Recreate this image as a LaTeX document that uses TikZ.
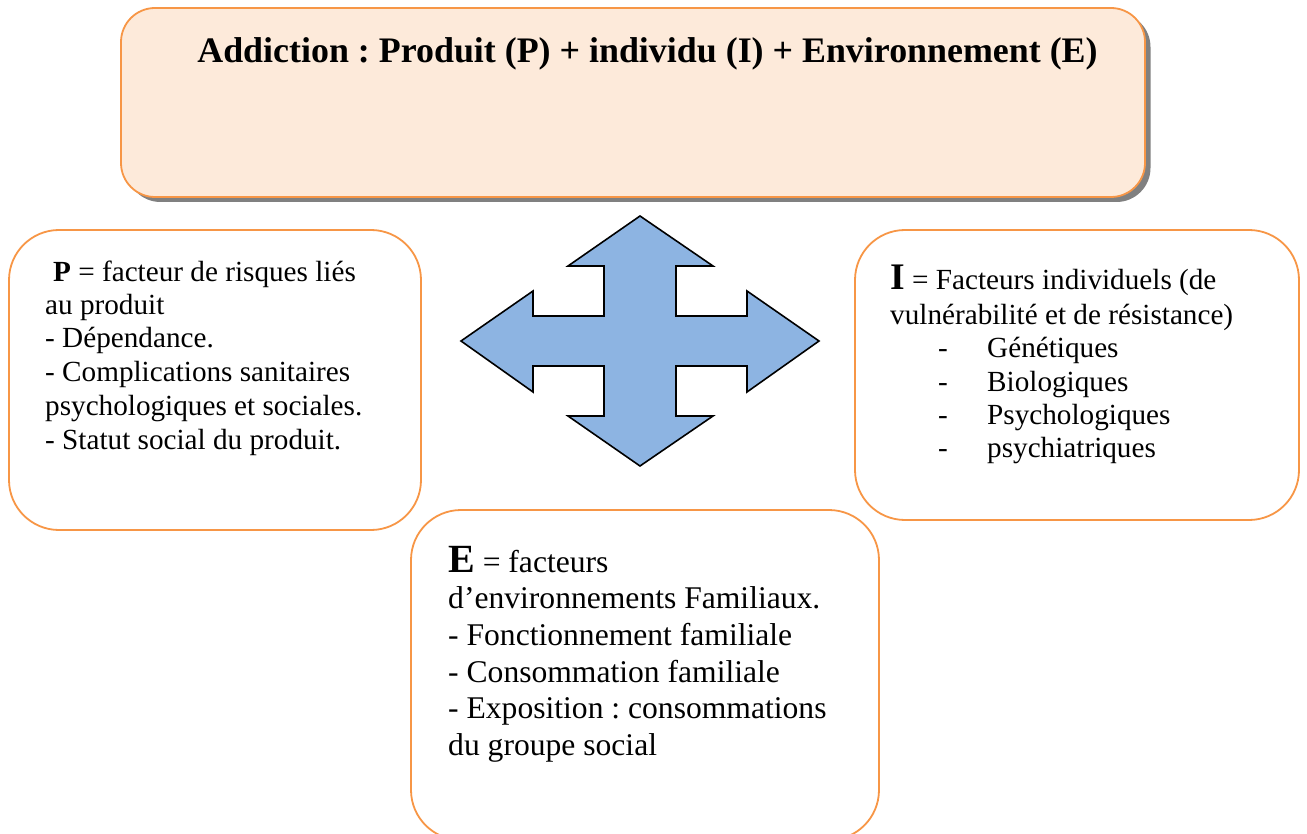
\documentclass[tikz,border=0pt]{standalone}
\usepackage{fontspec}
\setmainfont{Liberation Serif}
\frenchspacing
\usetikzlibrary{shadows}
\definecolor{boxorange}{HTML}{F79646}
\definecolor{peach}{HTML}{FDEADA}
\definecolor{arrowblue}{HTML}{8DB4E2}
\tikzset{
  card/.style={draw=boxorange, line width=1.8pt, fill=white, inner sep=0pt, rounded corners=50pt},
  titlecard/.style={card, fill=peach, rounded corners=34pt,
    drop shadow={shadow xshift=5.5pt, shadow yshift=-5pt, fill=black!50, opacity=1}},
  txt/.style={anchor=base west, inner sep=0pt, font=\fontsize{29.2}{29.2}\selectfont},
  etxt/.style={anchor=base west, inner sep=0pt, font=\fontsize{31.6}{31.6}\selectfont},
  quad/.style={draw=black, line width=1.6pt, fill=arrowblue, line join=miter}
}
\begin{document}
\begin{tikzpicture}[x=1pt,y=-1pt]
\useasboundingbox (0,0) rectangle (1307,834);
\clip (0,0) rectangle (1307,834);

% title box
\node[titlecard, minimum width=1024pt, minimum height=189pt] (top) at (633,102.5) {};
\node[anchor=base, inner sep=0pt, font=\fontsize{35.9}{35.9}\selectfont\bfseries] (title) at (647.5,62.5)
  {Addiction : Produit (P) + individu (I) + Environnement (E)};

% four-way arrow
\draw[quad] (640,216) -- (713,266) -- (676,266) -- (676,316) -- (747,316) -- (747,291)
  -- (819,341) -- (747,392) -- (747,366) -- (676,366) -- (676,416) -- (713,416)
  -- (640,466) -- (568,416) -- (604,416) -- (604,366) -- (533,366) -- (533,392)
  -- (461,341) -- (533,291) -- (533,316) -- (604,316) -- (604,266) -- (568,266) -- cycle;

% product box
\node[card, minimum width=412pt, minimum height=300pt] (pbox) at (215,380) {};
\node[txt] (p1) at (53,282) {\textbf{P} = facteur de risques liés};
\node[txt] (p2) at (45,315) {au produit};
\node[txt] (p3) at (45,348) {- Dépendance.};
\node[txt] (p4) at (45,381.5) {- Complications sanitaires};
\node[txt] (p5) at (45,415) {psychologiques et sociales.};
\node[txt] (p6) at (45,449) {- Statut social du produit.};

% individual box
\node[card, minimum width=444pt, minimum height=290pt] (ibox) at (1077,375) {};
\node[txt] (i1) at (890,290) {\textbf{\fontsize{37.5}{37.5}\selectfont I} = Facteurs individuels (de};
\node[txt] (i2) at (890,325) {vulnérabilité et de résistance)};
\foreach \w [count=\k] in {Génétiques, Biologiques, Psychologiques, psychiatriques} {
  \node[txt] (idash\k) at (938,{358+33.3*(\k-1)}) {-};
  \node[txt] (item\k) at (987,{358+33.3*(\k-1)}) {\w};
}

% environment box
\node[card, minimum width=468pt, minimum height=330pt] (ebox) at (645,675) {};
\node[etxt] (e1) at (448,572) {\textbf{\fontsize{40}{40}\selectfont E} = facteurs};
\node[etxt] (e2) at (448,608) {d’environnements Familiaux.};
\node[etxt] (e3) at (448,645) {- Fonctionnement familiale};
\node[etxt] (e4) at (448,682) {- Consommation familiale};
\node[etxt] (e5) at (448,718) {- Exposition : consommations};
\node[etxt] (e6) at (448,755) {du groupe social};
\end{tikzpicture}
\end{document}
